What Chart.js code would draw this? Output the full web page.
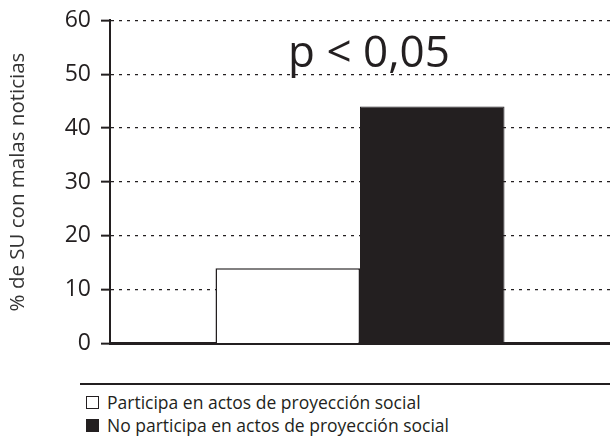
<!DOCTYPE html>
<html>
<head>
<meta charset="utf-8">
<script src="https://cdn.jsdelivr.net/npm/chart.js@4/dist/chart.umd.min.js"></script>
<style>
  body { margin: 0; background: #fff; width: 610px; height: 446px; overflow: hidden; font-family: 'Open Sans', sans-serif; }
  #wrap { position: relative; width: 610px; height: 364px; }
  .legend { position: absolute; left: 80px; top: 383px; width: 530px; border-top: 2px solid #231f20; padding-top: 6px; }
  .legend div { font-size: 17.5px; color: #231f20; line-height: 23px; padding-left: 6px; white-space: nowrap; }
  .sq { display: inline-block; width: 11px; height: 11px; border: 1px solid #231f20; margin-right: 8px; vertical-align: 0px; }
</style>
</head>
<body>
<div id="wrap"><canvas id="canvas" width="610" height="364"></canvas></div>
<div class="legend">
  <div><span class="sq" style="background:#fff"></span><span id="leg0"></span></div>
  <div><span class="sq" style="background:#231f20"></span><span id="leg1"></span></div>
</div>
<script>
const categories = ['']
const seriesNames = ['Participa en actos de proyección social', 'No participa en actos de proyección social']
const participa = [14]
const noParticipa = [44]
const yTicks = [0, 10, 20, 30, 40, 50, 60]
const pText = 'p < 0,05'

document.getElementById('leg0').textContent = seriesNames[0]
document.getElementById('leg1').textContent = seriesNames[1]

// text "p < 0,05" above the bars
const pLabel = {
  id: 'pLabel',
  afterDatasetsDraw(chart) {
    const ctx = chart.ctx
    const x = (chart.chartArea.left + chart.chartArea.right) / 2 + 9
    const y = chart.scales.y.getPixelForValue(51.3)
    ctx.save()
    ctx.font = '44px "Open Sans", sans-serif'
    ctx.fillStyle = '#231f20'
    ctx.textAlign = 'center'
    ctx.textBaseline = 'alphabetic'
    ctx.fillText(pText, x, y)
    ctx.restore()
  },
}

const data = {
  labels: categories,
  datasets: [
    {
      label: seriesNames[0],
      data: participa,
      backgroundColor: '#ffffff',
      borderColor: '#231f20',
      borderWidth: 1.5,
      barPercentage: 1,
      categoryPercentage: 0.578,
    },
    {
      label: seriesNames[1],
      data: noParticipa,
      backgroundColor: '#231f20',
      borderColor: '#231f20',
      borderWidth: 1,
      barPercentage: 1,
      categoryPercentage: 0.578,
    },
  ],
}

const config = {
  type: 'bar',
  data: data,
  plugins: [pLabel],
  options: {
    responsive: false,
    animation: false,
    layout: { padding: { top: 20, right: 0, left: 0, bottom: 0 } },
    plugins: { legend: { display: false }, tooltip: { enabled: false } },
    scales: {
      x: {
        grid: { display: false },
        ticks: { display: false },
        border: { display: true, color: '#231f20', width: 3 },
        afterFit(scale) { scale.height = 17 },
      },
      y: {
        min: 0,
        max: 60,
        afterBuildTicks(scale) { scale.ticks = yTicks.map(v => ({ value: v })) },
        ticks: {
          color: '#231f20',
          font: { family: 'Open Sans', size: 23, weight: '500', lineHeight: 0.9 },
          padding: 10,
        },
        grid: {
          color: '#231f20',
          lineWidth: 1.3,
          tickLength: 9,
          tickBorderDash: [],
          tickWidth: 2,
        },
        border: { display: true, color: '#231f20', width: 2, dash: [3, 5] },
        title: {
          display: true,
          text: '% de SU con malas noticias',
          color: '#333',
          font: { family: 'Open Sans', size: 20.5 },
          padding: { top: 6, bottom: 8 },
        },
        afterFit(scale) { scale.width = 110 },
      },
    },
  },
}

const chart = new Chart(document.getElementById('canvas'), config)
</script>
</body>
</html>
